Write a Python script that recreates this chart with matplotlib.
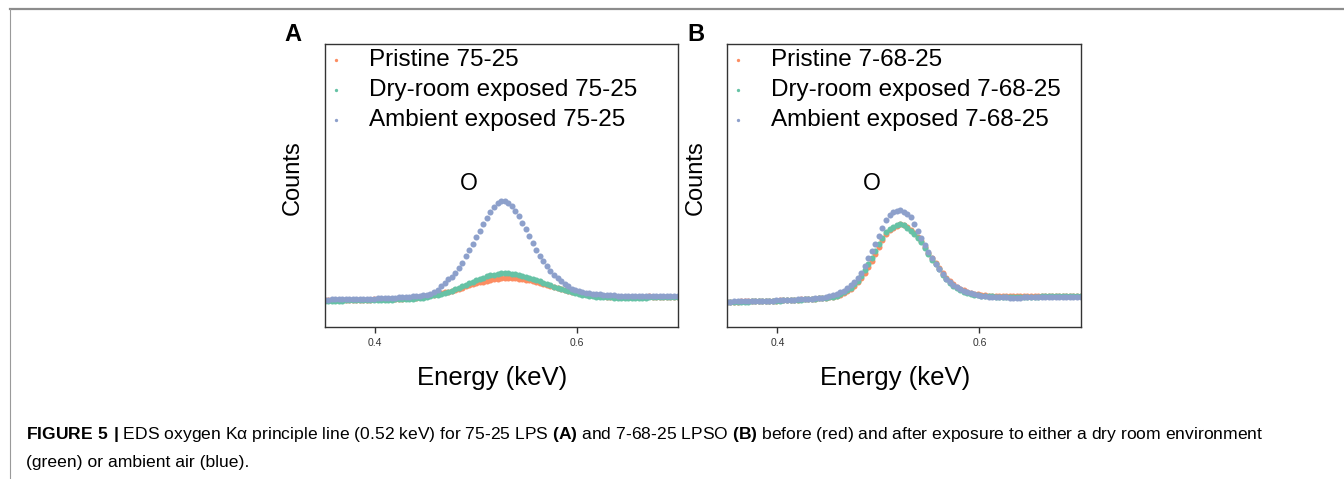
import numpy as np
import matplotlib
matplotlib.use("Agg")
import matplotlib.pyplot as plt
from matplotlib.lines import Line2D

plt.rcParams['font.family'] = ['Liberation Sans', 'DejaVu Sans']
plt.rcParams['mathtext.fontset'] = 'custom'
plt.rcParams['mathtext.rm'] = 'Liberation Sans'
plt.rcParams['mathtext.bf'] = 'Liberation Sans:bold'

# ---------------- data ----------------
energy_start = 0.35   # keV
energy_step = 0.0035  # keV per channel
n_channels = 101
energy = np.round(energy_start + energy_step * np.arange(n_channels), 4)

A_pristine = [268, 268, 269, 269, 270, 270, 271, 271, 272, 272,
              273, 274, 274, 275, 276, 276, 277, 278, 279, 280,
              281, 282, 284, 286, 288, 291, 294, 298, 303, 309,
              317, 323, 330, 338, 346, 355, 364, 374, 384, 395,
              406, 416, 427, 437, 446, 455, 463, 471, 477, 482,
              486, 488, 489, 488, 486, 483, 479, 473, 466, 458,
              450, 441, 431, 421, 411, 401, 391, 381, 372, 363,
              355, 347, 340, 334, 328, 322, 318, 313, 310, 307,
              304, 302, 300, 298, 297, 296, 296, 296, 296, 297,
              297, 297, 310, 298, 299, 299, 300, 301, 300, 302,
              301]
A_dry = [263, 263, 264, 264, 265, 265, 266, 266, 267, 267,
         268, 268, 269, 270, 270, 271, 272, 272, 273, 274,
         276, 277, 279, 281, 283, 285, 288, 291, 295, 301,
         308, 316, 323, 332, 341, 353, 365, 378, 392, 407,
         422, 437, 452, 468, 482, 495, 507, 517, 525, 532,
         536, 538, 538, 535, 530, 523, 515, 505, 495, 483,
         470, 457, 444, 431, 417, 404, 391, 379, 367, 356,
         346, 337, 329, 322, 316, 311, 307, 304, 301, 299,
         297, 296, 295, 295, 294, 294, 294, 294, 294, 295,
         295, 295, 296, 296, 297, 297, 298, 298, 299, 299,
         300]
A_ambient = [275, 275, 276, 276, 277, 277, 278, 278, 279, 280,
             280, 281, 282, 283, 284, 286, 287, 289, 290, 292,
             294, 296, 299, 301, 304, 307, 310, 314, 319, 325,
             334, 347, 370, 410, 445, 480, 505, 545, 590, 645,
             710, 770, 835, 900, 965, 1030, 1090, 1145, 1195, 1235,
             1258, 1262, 1240, 1205, 1160, 1105, 1045, 980, 910, 840,
             775, 715, 660, 610, 565, 525, 490, 460, 435, 410,
             385, 370, 358, 350, 344, 338, 334, 330, 327, 324,
             321, 319, 317, 315, 313, 312, 311, 310, 310, 309,
             309, 310, 310, 310, 311, 312, 312, 313, 313, 314,
             314]

B_pristine = [254, 254, 255, 255, 256, 257, 257, 258, 259, 260,
              261, 262, 263, 264, 265, 267, 268, 270, 271, 273,
              275, 277, 279, 281, 283, 285, 288, 291, 295, 300,
              303, 311, 323, 340, 360, 383, 415, 450, 492, 545,
              605, 665, 735, 805, 870, 930, 970, 995, 1015, 1030,
              1025, 1000, 970, 940, 905, 860, 805, 745, 690, 640,
              592, 540, 495, 458, 428, 402, 382, 366, 353, 342,
              333, 326, 321, 317, 314, 312, 310, 309, 308, 307,
              307, 307, 307, 307, 307, 308, 308, 308, 309, 309,
              309, 309, 310, 310, 310, 310, 311, 311, 311, 311,
              311]
B_dry = [252, 252, 253, 253, 254, 255, 255, 256, 257, 258,
         259, 260, 261, 262, 263, 265, 266, 268, 269, 271,
         273, 275, 277, 279, 281, 284, 287, 290, 295, 300,
         305, 315, 330, 350, 370, 395, 430, 465, 510, 570,
         630, 690, 760, 830, 895, 950, 980, 1000, 1020, 1030,
         1020, 995, 960, 930, 895, 850, 790, 730, 675, 630,
         580, 525, 480, 445, 415, 390, 370, 355, 342, 332,
         324, 318, 313, 310, 308, 306, 305, 304, 304, 303,
         303, 303, 303, 303, 304, 304, 305, 305, 305, 306,
         306, 306, 307, 307, 308, 308, 309, 309, 310, 310,
         310]
B_ambient = [255, 255, 256, 256, 257, 258, 258, 259, 260, 261,
             262, 263, 264, 265, 266, 268, 269, 271, 272, 274,
             276, 278, 280, 282, 284, 287, 290, 294, 300, 308,
             320, 332, 348, 365, 388, 420, 455, 495, 540, 610,
             690, 760, 835, 915, 990, 1070, 1120, 1145, 1162, 1165,
             1145, 1125, 1100, 1030, 960, 890, 820, 750, 690, 635,
             580, 530, 485, 450, 420, 397, 378, 362, 348, 337,
             328, 320, 314, 309, 305, 302, 300, 298, 297, 296,
             295, 295, 295, 295, 296, 296, 297, 297, 298, 299,
             300, 300, 301, 302, 302, 303, 303, 304, 304, 305,
             305]

labels_A = ["Pristine 75-25", "Dry-room exposed 75-25", "Ambient exposed 75-25"]
labels_B = ["Pristine 7-68-25", "Dry-room exposed 7-68-25", "Ambient exposed 7-68-25"]
xticks = [0.4, 0.6]
xtick_labels = ["0.4", "0.6"]
colors = ["#fc8d62", "#66c2a5", "#8da0cb"]

caption1 = (r"$\mathbf{FIGURE\ 5\ |}$ EDS oxygen K" + "\u03b1" +
            r" principle line (0.52 keV) for 75-25 LPS "
            r"$\mathbf{(A)}$ and 7-68-25 LPSO $\mathbf{(B)}$ before (red) and after exposure "
            r"to either a dry room environment")
caption2 = "(green) or ambient air (blue)."

# ---------------- figure ----------------
W, H = 1344, 479
fig = plt.figure(figsize=(W / 100, H / 100), dpi=100)
fig.patch.set_facecolor("white")


def px_axes(left, right, top, bottom):
    return [left / W, 1 - bottom / H, (right - left) / W, (bottom - top) / H]


panels = [
    (px_axes(324.6, 677.5, 44, 327), [A_pristine, A_dry, A_ambient], labels_A, "A"),
    (px_axes(726.9, 1080.5, 44, 327), [B_pristine, B_dry, B_ambient], labels_B, "B"),
]

for rect, series, labels, letter in panels:
    ax = fig.add_axes(rect)
    handles = []
    for vals, col, lab in zip(series, colors, labels):
        h = ax.scatter(energy, vals, s=19, color=col, linewidths=0, label=lab)
        handles.append(h)
    ax.set_xlim(0.35, 0.70)
    ax.set_ylim(0, 2830)
    ax.set_yticks([])
    ax.set_xticks(xticks)
    ax.set_xticklabels(xtick_labels)
    ax.tick_params(axis='x', direction='out', length=4, width=1, colors='#333333',
                   labelsize=7.5, pad=4)
    for sp in ax.spines.values():
        sp.set_linewidth(1.0)
        sp.set_color('#333333')
    leg = ax.legend(handles=handles, loc='upper left', bbox_to_anchor=(0, 1),
                    frameon=False, fontsize=17.5, handlelength=0.5,
                    handletextpad=1.1, borderaxespad=0.0, borderpad=0.22,
                    labelspacing=0.33, scatterpoints=1, markerscale=0.55)
    ax.text(-0.0895, 0.528, "Counts", rotation=90, transform=ax.transAxes,
            ha='center', va='center', fontsize=17)
    ax.text(0.476, -0.205, "Energy (keV)", transform=ax.transAxes,
            ha='center', va='baseline', fontsize=18.5)
    ax.text(-0.0887, 1.032, letter, transform=ax.transAxes, ha='center',
            va='center', fontsize=17, fontweight='bold')
    ax.text(0.4930, 1437, "O", ha='center', va='center', fontsize=16.5)

# frame lines
fig.add_artist(Line2D([10 / W, 1], [1 - 9 / H, 1 - 9 / H], transform=fig.transFigure,
                      color='#8c8c8c', linewidth=1.6))
fig.add_artist(Line2D([10 / W, 10 / W], [1 - 9 / H, 0], transform=fig.transFigure,
                      color='#9a9a9a', linewidth=0.8))

fig.text(26 / W, 1 - 439 / H, caption1, fontsize=12.6, va='baseline', ha='left')
fig.text(26 / W, 1 - 467 / H, caption2, fontsize=12.6, va='baseline', ha='left')

fig.savefig("out.png", dpi=100, facecolor='white')
